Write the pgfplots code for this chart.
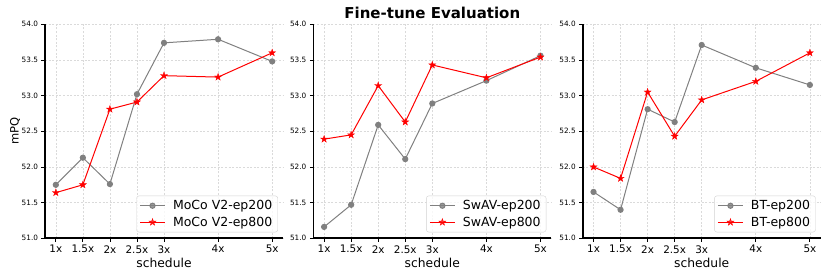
\documentclass[border=0pt]{standalone}
\usepackage{fontspec}
\setmainfont{DejaVu Sans}
\usepackage{pgfplots}
\pgfplotsset{compat=1.18}
\definecolor{mgray}{RGB}{128,128,128}
\definecolor{gridc}{RGB}{218,218,218}
\definecolor{legc}{RGB}{210,210,210}

\pgfdeclareplotmark{fstar}{%
  \pgfpathmoveto{\pgfpointpolar{90}{\pgfplotmarksize}}%
  \pgfpathlineto{\pgfpointpolar{126}{0.382\pgfplotmarksize}}%
  \pgfpathlineto{\pgfpointpolar{162}{\pgfplotmarksize}}%
  \pgfpathlineto{\pgfpointpolar{198}{0.382\pgfplotmarksize}}%
  \pgfpathlineto{\pgfpointpolar{234}{\pgfplotmarksize}}%
  \pgfpathlineto{\pgfpointpolar{270}{0.382\pgfplotmarksize}}%
  \pgfpathlineto{\pgfpointpolar{306}{\pgfplotmarksize}}%
  \pgfpathlineto{\pgfpointpolar{342}{0.382\pgfplotmarksize}}%
  \pgfpathlineto{\pgfpointpolar{18}{\pgfplotmarksize}}%
  \pgfpathlineto{\pgfpointpolar{54}{0.382\pgfplotmarksize}}%
  \pgfpathclose
  \pgfusepathqfillstroke}

\pgfplotsset{
  panel/.style={
    width=238bp, height=214bp, scale only axis,
    anchor=south west,
    xmin=0.8, xmax=5.2, ymin=51, ymax=54,
    xtick={1,1.5,2,2.5,3,4,5},
    xticklabels={1x,1.5x,2x,2.5x,3x,4x,5x},
    ytick={51,51.5,52,52.5,53,53.5,54},
    /pgf/number format/assume math mode=true,
    /pgf/number format/fixed, /pgf/number format/fixed zerofill, /pgf/number format/precision=1,
    axis x line*=bottom, axis y line*=left,
    axis line style={line width=1.6bp, black},
    tick align=outside, major tick length=3.5bp,
    tick style={black, line width=0.8bp},
    xticklabel style={font=\fontsize{10.4bp}{12bp}\selectfont},
    yticklabel style={font=\fontsize{7.3bp}{8bp}\selectfont},
    grid=major,
    major grid style={gridc, line width=0.6bp, dash pattern=on 2bp off 1.6bp},
    xlabel={schedule},
    xlabel style={font=\fontsize{12.3bp}{14bp}\selectfont, at={(axis description cs:0.5,-0.113)}, anchor=center},
    legend cell align=left,
    legend style={at={(0.979,0.028)}, anchor=south east,
      draw=legc, rounded corners=2.5bp, fill=white, fill opacity=0.8, text opacity=1,
      font=\fontsize{12.5bp}{15bp}\selectfont,
      nodes={inner sep=2.5bp},
      inner xsep=3bp, inner ysep=2bp,
      row sep=0.7bp, column sep=5bp},
    legend image code/.code={%
      \draw[mark repeat=2,mark phase=2] plot coordinates {(0bp,0bp) (12.5bp,0bp) (25bp,0bp)};},
  },
  gser/.style={color=mgray, line width=1bp, mark=*, mark size=2.6bp, mark options={solid, fill=mgray, draw=mgray}},
  rser/.style={color=red, line width=1bp, mark=fstar, mark size=3.6bp, mark options={solid, fill=red, draw=red, line width=0.4bp}},
}

\begin{document}
\begin{tikzpicture}
\useasboundingbox (0bp,0bp) rectangle (830bp,277bp);

\begin{axis}[panel, at={(45bp,38.7bp)},
  ylabel={mPQ}, ylabel style={font=\fontsize{11.5bp}{13bp}\selectfont, at={(axis description cs:-0.126,0.5)}, anchor=center}]
\addplot[gser] coordinates {(1,51.75) (1.5,52.13) (2,51.76) (2.5,53.02) (3,53.74) (4,53.79) (5,53.48)};
\addlegendentry{MoCo V2-ep200}
\addplot[rser] coordinates {(1,51.64) (1.5,51.75) (2,52.81) (2.5,52.91) (3,53.28) (4,53.26) (5,53.60)};
\addlegendentry{MoCo V2-ep800}
\end{axis}

\begin{axis}[panel, at={(313.3bp,38.7bp)},
  title={Fine-tune Evaluation},
  title style={font=\bfseries\fontsize{15bp}{18bp}\selectfont, yshift=-4bp}]
\addplot[gser] coordinates {(1,51.16) (1.5,51.47) (2,52.59) (2.5,52.11) (3,52.89) (4,53.21) (5,53.56)};
\addlegendentry{SwAV-ep200}
\addplot[rser] coordinates {(1,52.39) (1.5,52.45) (2,53.14) (2.5,52.63) (3,53.43) (4,53.25) (5,53.54)};
\addlegendentry{SwAV-ep800}
\end{axis}

\begin{axis}[panel, at={(582.7bp,38.7bp)}]
\addplot[gser] coordinates {(1,51.65) (1.5,51.40) (2,52.81) (2.5,52.63) (3,53.71) (4,53.39) (5,53.15)};
\addlegendentry{BT-ep200}
\addplot[rser] coordinates {(1,52.00) (1.5,51.84) (2,53.05) (2.5,52.43) (3,52.94) (4,53.20) (5,53.60)};
\addlegendentry{BT-ep800}
\end{axis}
\end{tikzpicture}
\end{document}
